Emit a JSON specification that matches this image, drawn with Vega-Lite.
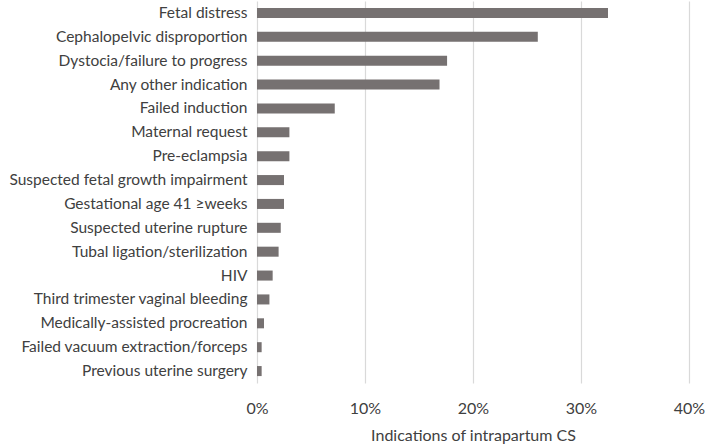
{
  "$schema": "https://vega.github.io/schema/vega-lite/v6.json",
  "autosize": {"type": "none"},
  "width": 432,
  "height": 382,
  "padding": {"left": 257, "top": 1, "right": 19, "bottom": 63},
  "background": "white",
  "config": {"view": {"stroke": null}, "font": "Lato, sans-serif"},
  "data": {"values": [
    {"indication": "Fetal distress", "pct": 0.325},
    {"indication": "Cephalopelvic disproportion ", "pct": 0.260},
    {"indication": "Dystocia/failure to progress", "pct": 0.176},
    {"indication": "Any other indication", "pct": 0.169},
    {"indication": "Failed induction", "pct": 0.072},
    {"indication": "Maternal request", "pct": 0.030},
    {"indication": "Pre-eclampsia", "pct": 0.030},
    {"indication": "Suspected fetal growth impairment", "pct": 0.025},
    {"indication": "Gestational age 41 ≥weeks", "pct": 0.025},
    {"indication": "Suspected uterine rupture", "pct": 0.022},
    {"indication": "Tubal ligation/sterilization", "pct": 0.020},
    {"indication": "HIV", "pct": 0.0145},
    {"indication": "Third trimester vaginal bleeding", "pct": 0.0115},
    {"indication": "Medically-assisted procreation", "pct": 0.0065},
    {"indication": "Failed vacuum extraction/forceps", "pct": 0.0043},
    {"indication": "Previous uterine surgery", "pct": 0.0043}
  ]},
  "mark": {"type": "bar", "color": "#767171"},
  "encoding": {
    "y": {
      "field": "indication", "type": "nominal", "sort": null,
      "scale": {"paddingInner": 0.58, "paddingOuter": 0.29},
      "axis": {"title": null, "domain": false, "ticks": false, "labelPadding": 10, "labelFontSize": 15.5, "labelColor": "#404040", "labelLimit": 300}
    },
    "x": {
      "field": "pct", "type": "quantitative",
      "scale": {"domain": [0, 0.4], "nice": false},
      "axis": {
        "title": "Indications of intrapartum CS", "titleFontSize": 16, "titleFontWeight": "normal", "titleColor": "#404040", "titlePadding": 11,
        "format": ".0%", "values": [0, 0.1, 0.2, 0.3, 0.4],
        "domain": false, "ticks": false, "labelPadding": 17, "labelFontSize": 16, "labelColor": "#404040", "labelFlush": false,
        "grid": true, "gridColor": "#d9d9d9", "gridWidth": 1.2
      }
    }
  }
}
